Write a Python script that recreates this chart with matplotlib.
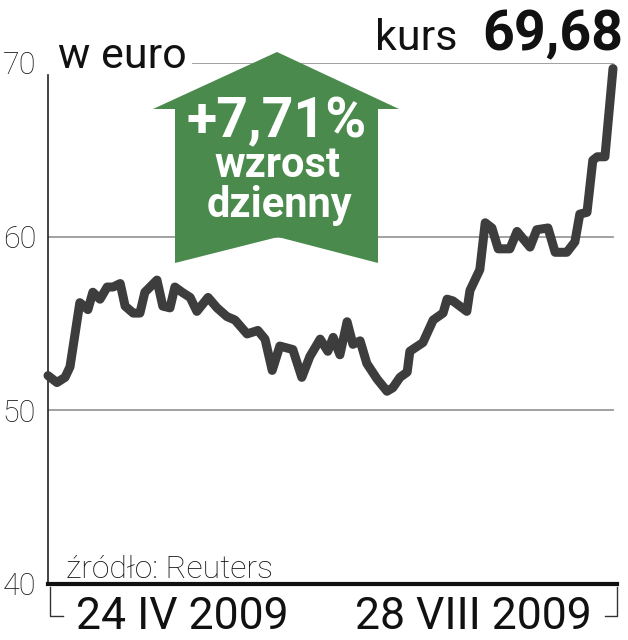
import numpy as np
import matplotlib
matplotlib.use('Agg')
import matplotlib.pyplot as plt
from matplotlib.patches import Polygon
from matplotlib.lines import Line2D

# dni od 24 IV 2009 i kurs w euro
dni = [0, 2, 3.8, 4.9, 7.1, 8.9, 10, 11.6, 13.2, 14.5, 16.1, 17.2, 19, 20.5,
       21.6, 24.3, 25.6, 27.2, 28.3, 29.9, 31.7, 33.2, 35.7, 37.7, 39.9, 41.7,
       44.4, 46.8, 48.4, 50, 51.7, 54.6, 56.6, 58.4, 60.7, 62.4, 63.6, 65.1,
       66.7, 68, 69.6, 71.1, 73.4, 75.6, 76.9, 78.5, 80.1, 80.7, 83.6, 85.9,
       88.1, 89, 90.3, 93.4, 94.1, 96.3, 97.5, 99, 100.4, 103, 104.6, 107.5,
       109, 111.5, 113.1, 115.7, 117.5, 118.6, 120.2, 121.5, 122.5, 124.2, 126]
kurs = [52.0, 51.6, 51.9, 52.5, 56.2, 55.8, 56.8, 56.4, 57.1, 57.1, 57.3, 56.0,
        55.6, 55.6, 56.8, 57.5, 56.0, 55.9, 57.1, 56.8, 56.5, 55.7, 56.5, 55.9,
        55.4, 55.2, 54.4, 54.6, 54.1, 52.3, 53.7, 53.5, 51.9, 53.1, 54.1, 53.4,
        54.2, 53.2, 55.1, 53.8, 54.0, 52.7, 51.8, 51.1, 51.3, 51.9, 52.2, 53.4,
        53.9, 55.2, 55.6, 56.4, 56.3, 55.7, 56.9, 58.1, 60.8, 60.5, 59.3, 59.3,
        60.3, 59.4, 60.4, 60.5, 59.1, 59.1, 59.7, 61.3, 61.4, 64.4, 64.6, 64.6,
        69.68]
poziomy = [40, 50, 60, 70]
etykiety_y = ['40', '50', '60', '70']

W, H = 628, 640
fig = plt.figure(figsize=(W / 100, H / 100), dpi=100)

def fx(x):
    return x / W

def fy(y):
    return 1 - y / H

ax = fig.add_axes([fx(48), fy(584), fx(569), (584 - 63) / H])
ax.set_xlim(0, 126 * 569 / 565)
ax.set_ylim(40, 70)

# linie siatki
ax.axhline(50, xmax=565 / 569, color='#9a9a9a', lw=1.3, zorder=1)
ax.axhline(60, xmax=565 / 569, color='#9a9a9a', lw=1.3, zorder=1)
ax.axhline(70, xmin=(193 - 48) / 569, xmax=565 / 569, color='#9a9a9a', lw=1.3, zorder=1)

ax.plot(dni, kurs, color='#3d3d3d', lw=6.5, solid_joinstyle='round',
        solid_capstyle='round', clip_on=False, zorder=5)

for s in ['top', 'right']:
    ax.spines[s].set_visible(False)
ax.spines['left'].set_bounds(40, 69.3)
ax.spines['left'].set_linewidth(1.2)
ax.spines['left'].set_color('#222222')
ax.spines['bottom'].set_linewidth(3)
ax.spines['bottom'].set_color('#111111')

ax.set_xticks([])
ax.set_yticks(poziomy)
ax.set_yticklabels(etykiety_y, family='Roboto', weight='light', fontsize=22, color='#1a1a1a')
ax.tick_params(axis='y', length=0, pad=8.5)

# strzalka
pkt = [(277, 52), (399, 109), (378, 109), (378, 263), (278, 237), (175, 263),
       (175, 109), (153, 109)]
fig.patches.append(Polygon([(fx(x), fy(y)) for x, y in pkt], closed=True,
                           transform=fig.transFigure, facecolor='#4a8a4c',
                           edgecolor='none', zorder=3))

fig.text(fx(277), fy(137), '+7,71%', family='Roboto', weight='bold', fontsize=40,
         color='white', ha='center', va='baseline', zorder=6)
fig.text(fx(277), fy(177), 'wzrost', family='Roboto', weight='bold', fontsize=30,
         color='white', ha='center', va='baseline', zorder=6)
fig.text(fx(279), fy(217), 'dzienny', family='Roboto', weight='bold', fontsize=30,
         color='white', ha='center', va='baseline', zorder=6)

fig.text(fx(58), fy(68), 'w euro', family='Roboto', fontsize=31, color='#111111',
         ha='left', va='baseline')
fig.text(fx(375), fy(50), 'kurs', family='Roboto', fontsize=31, color='#111111',
         ha='left', va='baseline')
fig.text(fx(623), fy(50), '69,68', family='Roboto', weight='bold', fontsize=40,
         color='#111111', ha='right', va='baseline')
fig.text(fx(66), fy(578), 'źródło: Reuters', family='Roboto', weight='light',
         fontsize=23, color='#111111', ha='left', va='baseline')
fig.text(fx(76), fy(629), '24 IV 2009', family='Roboto', fontsize=32,
         color='#111111', ha='left', va='baseline')
fig.text(fx(592), fy(629), '28 VIII 2009', family='Roboto', fontsize=32,
         color='#111111', ha='right', va='baseline')

# nawiasy pod osia
for xs, ys in [([50, 50, 63], [587, 616, 616]), ([605, 617, 617], [616, 616, 587])]:
    fig.add_artist(Line2D([fx(x) for x in xs], [fy(y) for y in ys],
                          transform=fig.transFigure, color='#333333', lw=1))

fig.savefig('out.png', dpi=100)
